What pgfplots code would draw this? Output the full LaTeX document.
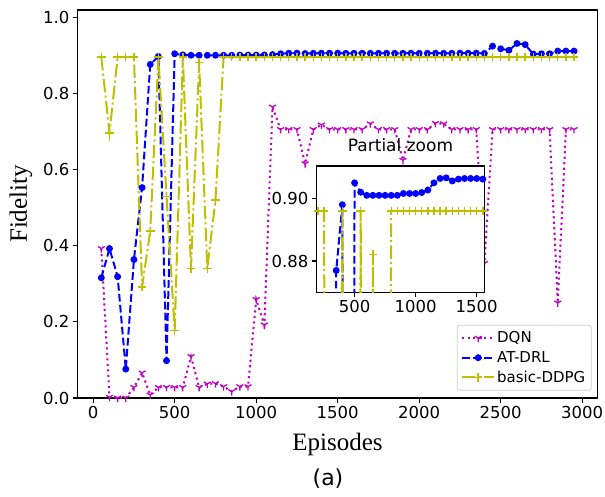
\documentclass[border=0pt]{standalone}
\usepackage{pgfplots}
\pgfplotsset{compat=1.18}
\usepackage{pgfplotstable}
\usetikzlibrary{plotmarks}
\usepackage{fontspec}
\setmainfont{DejaVu Sans}
\newfontfamily\timesfont{Liberation Serif}

\definecolor{mpm}{RGB}{191,0,191}
\definecolor{mpy}{RGB}{191,191,0}
\definecolor{mpb}{RGB}{0,0,255}

\pgfplotstableread{
ep dqn
50 0.393
100 0.002
150 0.000
200 0.000
250 0.028
300 0.066
350 0.008
400 0.028
450 0.028
500 0.028
550 0.028
600 0.109
650 0.028
700 0.037
750 0.038
800 0.030
850 0.017
900 0.030
950 0.030
1000 0.259
1050 0.192
1100 0.765
1150 0.706
1200 0.706
1250 0.706
1300 0.616
1350 0.706
1400 0.718
1450 0.706
1500 0.706
1550 0.706
1600 0.706
1650 0.706
1700 0.721
1750 0.706
1800 0.706
1850 0.706
1900 0.625
1950 0.706
2000 0.706
2050 0.706
2100 0.722
2150 0.721
2200 0.706
2250 0.706
2300 0.706
2350 0.706
2400 0.354
2450 0.706
2500 0.706
2550 0.706
2600 0.706
2650 0.706
2700 0.706
2750 0.706
2800 0.706
2850 0.250
2900 0.706
2950 0.706
}\dqn

\pgfplotstableread{
ep atdrl
50 0.316
100 0.393
150 0.319
200 0.076
250 0.364
300 0.553
350 0.877
400 0.898
450 0.098
500 0.905
550 0.902
600 0.901
650 0.901
700 0.901
750 0.901
800 0.901
850 0.901
900 0.9016
950 0.9016
1000 0.9016
1050 0.9019
1100 0.9027
1150 0.905
1200 0.9064
1250 0.9066
1300 0.9056
1350 0.9062
1400 0.9064
1450 0.9064
1500 0.9064
1550 0.9062
1600 0.9062
1650 0.9064
1700 0.9062
1750 0.9062
1800 0.9064
1850 0.9062
1900 0.9062
1950 0.9064
2000 0.9062
2050 0.9062
2100 0.9064
2150 0.9062
2200 0.9062
2250 0.9064
2300 0.9064
2350 0.9066
2400 0.9060
2450 0.925
2500 0.918
2550 0.914
2600 0.932
2650 0.929
2700 0.904
2750 0.905
2800 0.905
2850 0.912
2900 0.912
2950 0.912
}\atdrl

\pgfplotstableread{
ep ddpg
50 0.896
100 0.697
150 0.896
200 0.896
250 0.896
300 0.292
350 0.439
400 0.896
450 0.530
500 0.177
550 0.896
600 0.340
650 0.882
700 0.340
750 0.520
800 0.896
850 0.896
900 0.896
950 0.896
1000 0.896
1050 0.896
1100 0.896
1150 0.896
1200 0.896
1250 0.896
1300 0.896
1350 0.896
1400 0.896
1450 0.896
1500 0.896
1550 0.896
1600 0.896
1650 0.896
1700 0.896
1750 0.896
1800 0.896
1850 0.896
1900 0.896
1950 0.896
2000 0.896
2050 0.896
2100 0.896
2150 0.896
2200 0.896
2250 0.896
2300 0.896
2350 0.896
2400 0.896
2450 0.896
2500 0.896
2550 0.896
2600 0.896
2650 0.896
2700 0.896
2750 0.896
2800 0.896
2850 0.896
2900 0.896
2950 0.896
}\ddpg

\pgfplotsset{
  mplaxis/.style={
    scale only axis,
    axis line style={line width=1.1pt},
    tick style={line width=1.1pt, black},
    major tick length=4.9pt,
    tick align=outside,
    xtick pos=left, ytick pos=left,
    /pgf/number format/assume math mode=true,
    /pgf/number format/1000 sep={},
    ticklabel style={font=\fontsize{16.5}{18}\selectfont},
  },
  dqnstyle/.style={color=mpm, line width=2pt, dash pattern=on 2.1pt off 3.4pt,
    mark=Mercedes star flipped, mark size=4pt, mark options={solid, line width=1.3pt}},
  atstyle/.style={color=mpb, line width=2pt, dash pattern=on 7.7pt off 3.3pt,
    mark=*, mark size=2.4pt, mark options={solid}},
  ddstyle/.style={color=mpy, line width=2pt, dash pattern=on 13.3pt off 3.3pt on 2.1pt off 3.3pt,
    mark=+, mark size=4.3pt, mark options={solid, line width=1.4pt}},
}

\begin{document}
\begin{tikzpicture}
\useasboundingbox (-77.7pt,-98pt) rectangle (527.3pt,398pt);
\begin{axis}[
  mplaxis,
  width=520pt, height=388pt,
  xmin=-95, xmax=3095, ymin=0, ymax=1.02,
  xtick={0,500,...,3000},
  ytick={0,0.2,0.4,0.6,0.8,1.0},
  yticklabel style={/pgf/number format/.cd, fixed, fixed zerofill, precision=1},
  scaled x ticks=false,
  legend style={at={(1,0)}, anchor=south east, xshift=-6pt, yshift=7.3pt,
    font=\fontsize{15}{17}\selectfont, draw=black!20, rounded corners=2.5pt,
    fill=white, fill opacity=0.8, text opacity=1, line width=0.8pt,
    inner xsep=4pt, inner ysep=4.5pt, row sep=3pt},
  legend cell align=left,
  legend image code/.code={\draw[mark repeat=2,mark phase=2] plot coordinates {(0pt,0pt) (16pt,0pt) (32pt,0pt)};},
]
\addplot[dqnstyle] table[x=ep, y=dqn] {\dqn};
\addplot[atstyle] table[x=ep, y=atdrl] {\atdrl};
\addplot[ddstyle] table[x=ep, y=ddpg] {\ddpg};
\legend{DQN, AT-DRL, basic-DDPG}
\end{axis}

\begin{axis}[
  mplaxis,
  at={(239pt,105.7pt)}, anchor=south west,
  width=167.6pt, height=126.3pt,
  xmin=190, xmax=1562, ymin=0.87, ymax=0.9104,
  xtick={500,1000,1500},
  ytick={0.88,0.90},
  yticklabel style={/pgf/number format/.cd, fixed, fixed zerofill, precision=2},
  axis background/.style={fill=white},
  title={Partial zoom},
  title style={font=\fontsize{17}{19}\selectfont, at={(0.5,1)}, anchor=base, yshift=8pt},
]
\addplot[dqnstyle] table[x=ep, y=dqn] {\dqn};
\addplot[atstyle] table[x=ep, y=atdrl] {\atdrl};
\addplot[ddstyle] table[x=ep, y=ddpg] {\ddpg};
\end{axis}

\node[rotate=90, font=\timesfont\fontsize{25}{28}\selectfont] at (-56.7pt,194pt) {Fidelity};
\node[anchor=base, font=\timesfont\fontsize{25}{28}\selectfont] at (259.8pt,-52pt) {Episodes};
\node[font=\fontsize{22}{24}\selectfont] at (250.3pt,-81pt) {(a)};
\end{tikzpicture}
\end{document}
